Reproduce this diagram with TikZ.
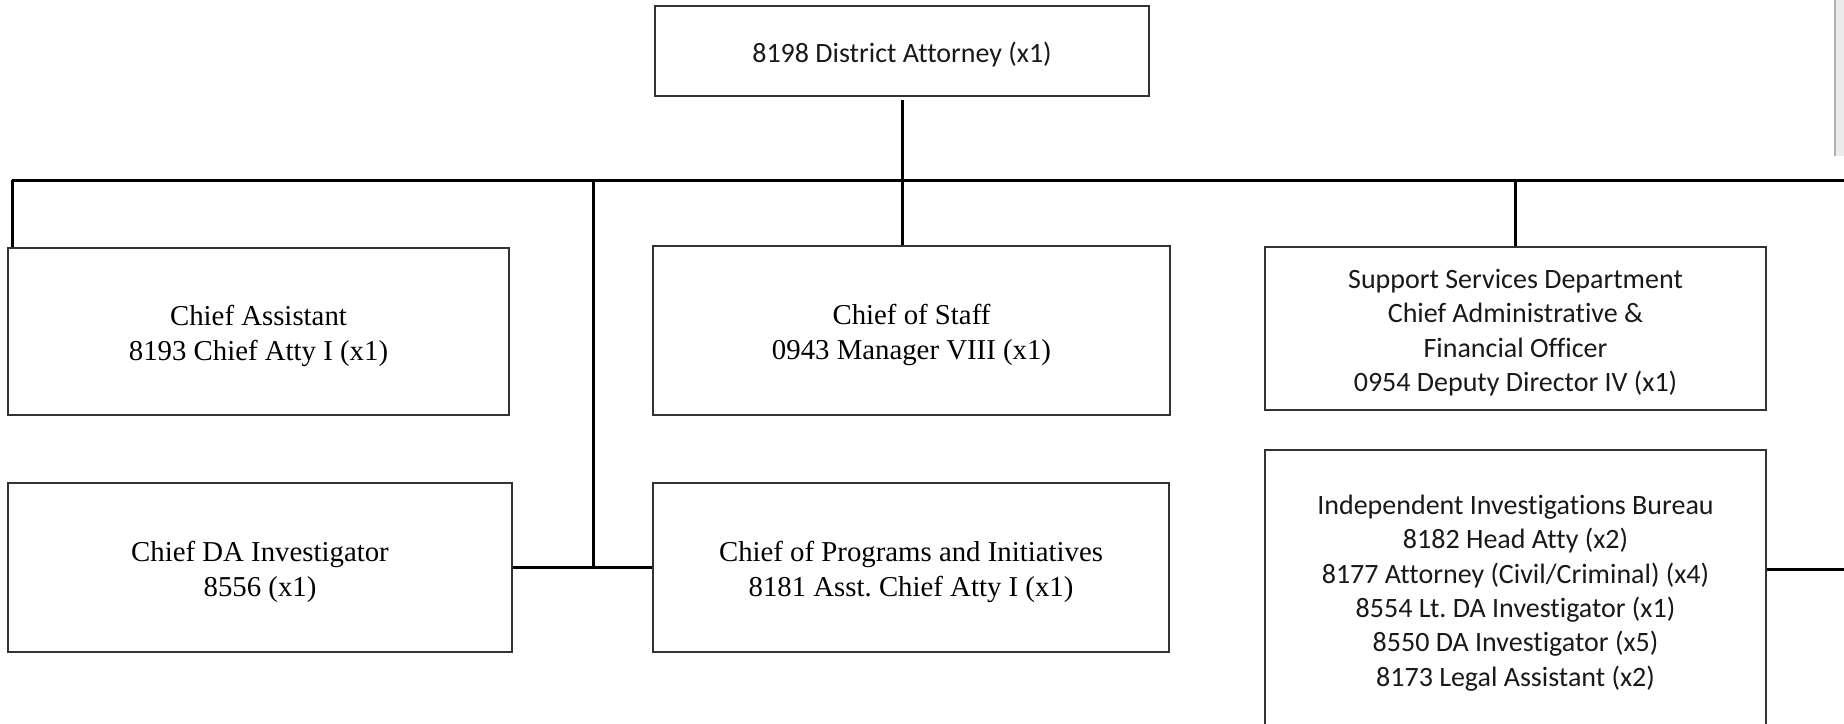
\documentclass[tikz,border=0pt]{standalone}
\usepackage{fontspec}
\setmainfont[Ligatures=NoCommon]{Liberation Serif}
\newfontfamily\calfont[Ligatures={NoCommon,NoContextual}]{Carlito}
\frenchspacing
\begin{document}
\begin{tikzpicture}[x=1pt,y=-1pt,
  box/.style={draw=black!80, line width=1.3pt, rectangle, inner sep=0pt},
  sanstext/.style={align=center, text=black!90, yshift=-4pt, font=\calfont\fontsize{28}{34.3}\selectfont},
  seriftext/.style={align=center, text=black, yshift=-4.5pt, font=\fontsize{28.8}{35}\selectfont},
  conn/.style={draw=black, line width=3pt}]
\clip (0,0) rectangle (1844,723);
\useasboundingbox (0,0) rectangle (1844,723);
% grey side artefact
\fill[gray!15] (1835,0) rectangle (1844,156);
\draw[gray!60, line width=2pt] (1835,0) -- (1835,156);
% boxes
\node[box, minimum width=494pt, minimum height=90pt,
  label={[sanstext]center:{8198 District Attorney (x1)}}] (top) at (902,51) {};
\node[box, minimum width=501pt, minimum height=167pt,
  label={[seriftext]center:{Chief Assistant\\8193 Chief Atty I (x1)}}] (ca) at (258.5,331.5) {};
\node[box, minimum width=517pt, minimum height=169pt,
  label={[seriftext]center:{Chief of Staff\\0943 Manager VIII (x1)}}] (cos) at (911.5,330.5) {};
\node[box, minimum width=501pt, minimum height=163pt,
  label={[sanstext]center:{Support Services Department\\Chief Administrative \&\\Financial Officer\\0954 Deputy Director IV (x1)}}] (ss) at (1515.5,328.5) {};
\node[box, minimum width=504pt, minimum height=169pt,
  label={[seriftext]center:{Chief DA Investigator\\8556 (x1)}}] (da) at (260,567.5) {};
\node[box, minimum width=516pt, minimum height=169pt,
  label={[seriftext]center:{Chief of Programs and Initiatives\\8181 Asst.\ Chief Atty I (x1)}}] (prog) at (911,567.5) {};
\node[box, minimum width=501pt, minimum height=278pt,
  label={[sanstext]center:{Independent Investigations Bureau\\8182 Head Atty (x2)\\8177 Attorney (Civil/Criminal) (x4)\\8554 Lt.\ DA Investigator (x1)\\8550 DA Investigator (x5)\\8173 Legal Assistant (x2)}}] (iib) at (1515.5,589) {};
% connector coordinates
\coordinate (bl) at (12,180);
\coordinate (br) at (1844,180);
\coordinate (mv) at (593,180);
\coordinate (rend) at (1844,569);
% connectors
\draw[conn] (bl) -- (br);
\draw[conn] (bl) -- (bl |- ca.north);
\draw[conn, shorten <=3pt] (top.south) -- (top.south |- cos.north);
\draw[conn] (ss.north) -- (ss.north |- bl);
\draw[conn] (mv) -- (mv |- da.east);
\draw[conn] (da.east) -- (prog.west);
\draw[conn] ([yshift=20pt]iib.east) -- (rend);
\end{tikzpicture}
\end{document}
